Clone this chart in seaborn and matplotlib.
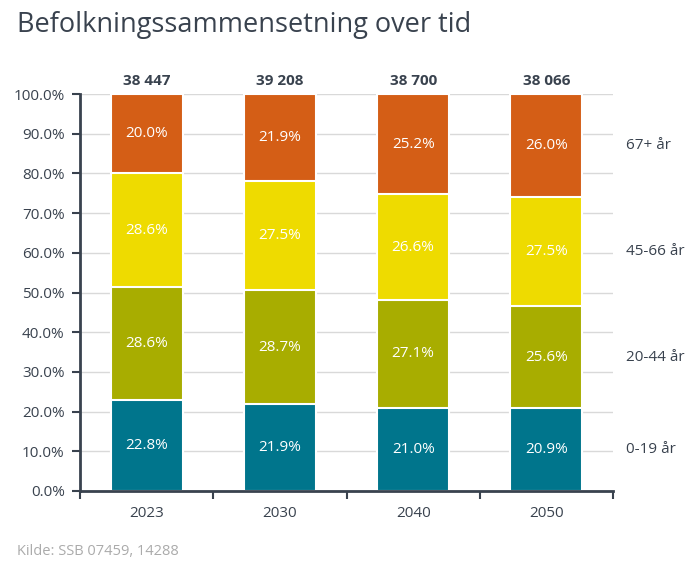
import numpy as np
import pandas as pd
import matplotlib
matplotlib.use("Agg")
import matplotlib.pyplot as plt
import seaborn as sns

years = ["2023", "2030", "2040", "2050"]
groups = ["0-19 år", "20-44 år", "45-66 år", "67+ år"]
share_0_19 = [22.8, 21.9, 21.0, 20.9]
share_20_44 = [28.6, 28.7, 27.1, 25.6]
share_45_66 = [28.6, 27.5, 26.6, 27.5]
share_67 = [20.0, 21.9, 25.2, 26.0]
totals = ["38 447", "39 208", "38 700", "38 066"]

colors = ["#00758C", "#A8AD00", "#EEDB00", "#D45E16"]
text_col = "#39424E"

sns.set_theme(style="white")
plt.rcParams["font.family"] = ["Open Sans", "DejaVu Sans"]

shares = [share_0_19, share_20_44, share_45_66, share_67]
df = pd.DataFrame({"year": years * 4,
                   "group": np.repeat(groups, len(years)),
                   "share": np.concatenate(shares)})

fig = plt.figure(figsize=(6.94, 5.74), dpi=100)
ax = fig.add_axes([0.1153, 0.1446, 0.768, 0.6916])

# stacked bars: draw cumulative totals from the top group down
wide = df.pivot(index="year", columns="group", values="share").loc[years, groups]
cum = wide.cumsum(axis=1)
for g, c in reversed(list(zip(groups, colors))):
    sns.barplot(x=cum.index, y=cum[g].values, color=c, saturation=1, width=0.54,
                edgecolor="white", linewidth=1.5, ax=ax, zorder=2)

fs = 11
for i, y in enumerate(years):
    bottom = 0
    for g in groups:
        v = wide.loc[y, g]
        ax.text(i, bottom + v / 2, f"{v:.1f}%", ha="center", va="center",
                color="white", fontsize=fs)
        bottom += v
    ax.text(i, 101.5, totals[i], ha="center", va="bottom", color=text_col,
            fontsize=fs, fontweight="bold")

# group labels on the right, at the centres of the last bar's segments
bottom = 0
for g in groups:
    v = wide.loc[years[-1], g]
    ax.text(3.6, bottom + v / 2, g, ha="left", va="center", color=text_col,
            fontsize=fs, clip_on=False)
    bottom += v

ax.set_xlim(-0.5, 3.5)
ax.set_ylim(0, 100)
ax.set_yticks(np.arange(0, 101, 10))
ax.set_yticklabels([f"{t:.1f}%" for t in np.arange(0, 101, 10)], color=text_col, fontsize=fs)
ax.set_xticks(range(len(years)))
ax.set_xticklabels(years, color=text_col, fontsize=fs)
ax.tick_params(axis="x", length=0, pad=11)
ax.tick_params(axis="y", length=6, width=1.5, color=text_col, left=True, pad=5)
ax.set_xticks([-0.5, 0.5, 1.5, 2.5, 3.5], minor=True)
ax.tick_params(axis="x", which="minor", length=6, width=1.5, color=text_col, bottom=True)
ax.grid(axis="y", color="#D9D9D9", linewidth=1, zorder=0)
ax.set_axisbelow(True)
ax.set_xlabel("")
ax.set_ylabel("")
for s in ["top", "right"]:
    ax.spines[s].set_visible(False)
for s in ["left", "bottom"]:
    ax.spines[s].set_color(text_col)
    ax.spines[s].set_linewidth(2)

fig.text(0.024, 0.957, "Befolkningssammensetning over tid", fontsize=19.5,
         color=text_col, ha="left", va="center")
fig.text(0.024, 0.04, "Kilde: SSB 07459, 14288", fontsize=10.5, color="#ABABAB",
         ha="left", va="center")

fig.savefig("out.png", dpi=100)
